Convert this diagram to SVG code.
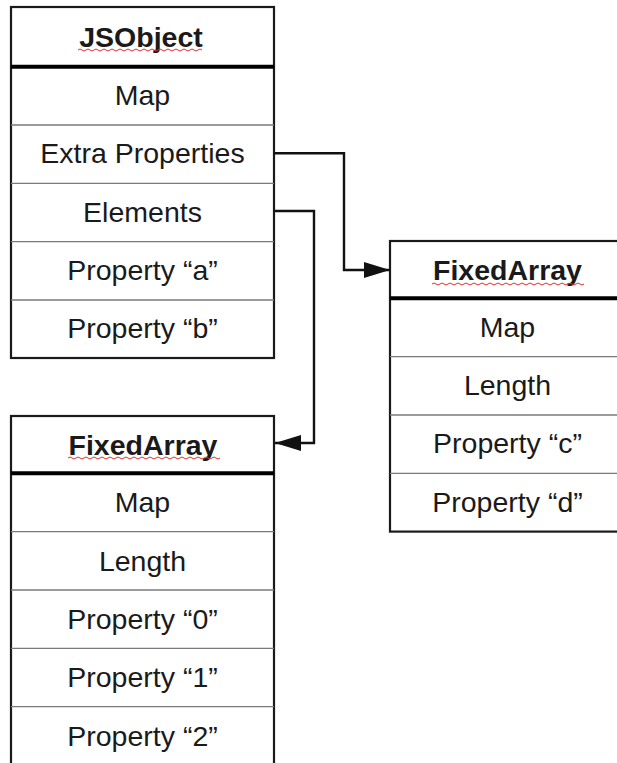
<svg xmlns="http://www.w3.org/2000/svg" width="617" height="763" viewBox="0 0 617 763">
<style>
.box{fill:#fff;stroke:#1a1a1a;stroke-width:2.2}
.row{stroke:#7a7a7a;stroke-width:1.3}
.hdr{stroke:#000;stroke-width:4}
.t{font-family:"Liberation Sans",Arial,sans-serif;font-size:28.5px;fill:#1a1a1a;text-anchor:middle}
.b{font-weight:bold}
.sq{fill:none;stroke:#e03030;stroke-width:1}
.c{fill:none;stroke:#111;stroke-width:2.4}
</style>
<defs>
<marker id="ah" markerWidth="11" markerHeight="7" refX="11" refY="3.5" orient="auto" markerUnits="userSpaceOnUse" viewBox="0 0 11 7">
<path d="M0,0 L11,3.5 L0,7 Z" fill="#111"/>
</marker>
<marker id="arr" viewBox="0 0 26 16" refX="26" refY="8" markerWidth="26" markerHeight="16" markerUnits="userSpaceOnUse" orient="auto">
<path d="M0,0 L26,8 L0,16 Z" fill="#111"/>
</marker>
</defs>
<g id="jsobject">
<rect class="box" x="11" y="7" width="263" height="351"/>
<line class="row" x1="11" y1="125" x2="274" y2="125"/>
<line class="row" x1="11" y1="183.3" x2="274" y2="183.3"/>
<line class="row" x1="11" y1="241.6" x2="274" y2="241.6"/>
<line class="row" x1="11" y1="300" x2="274" y2="300"/>
<line class="hdr" x1="11" y1="66.7" x2="274" y2="66.7"/>
<text class="t b" x="141" y="47">JSObject</text>
<path class="sq" d="M78,50 q2,-2 4,0 t4,0 t4,0 t4,0 t4,0 t4,0 t4,0 t4,0 t4,0 t4,0 t4,0 t4,0 t4,0 t4,0 t4,0 t4,0 t4,0 t4,0 t4,0 t4,0 t4,0 t4,0 t4,0 t4,0 t4,0 t4,0 t4,0 t4,0 t4,0 t4,0 t4,0"/>
<text class="t" x="142.5" y="105">Map</text>
<text class="t" x="142.5" y="163">Extra Properties</text>
<text class="t" x="142.5" y="222">Elements</text>
<text class="t" x="142.5" y="280">Property “a”</text>
<text class="t" x="142.5" y="338">Property “b”</text>
</g>
<g id="fixedarray-right">
<rect class="box" x="390" y="241" width="235" height="290.6"/>
<line class="row" x1="390" y1="356.6" x2="625" y2="356.6"/>
<line class="row" x1="390" y1="415" x2="625" y2="415"/>
<line class="row" x1="390" y1="473.3" x2="625" y2="473.3"/>
<line class="hdr" x1="390" y1="298.3" x2="625" y2="298.3"/>
<text class="t b" x="507.5" y="280">FixedArray</text>
<path class="sq" d="M432,284 q2,-2 4,0 t4,0 t4,0 t4,0 t4,0 t4,0 t4,0 t4,0 t4,0 t4,0 t4,0 t4,0 t4,0 t4,0 t4,0 t4,0 t4,0 t4,0 t4,0 t4,0 t4,0 t4,0 t4,0 t4,0 t4,0 t4,0 t4,0 t4,0 t4,0 t4,0 t4,0 t4,0 t4,0 t4,0 t4,0 t4,0 t4,0 t4,0"/>
<text class="t" x="507.5" y="337">Map</text>
<text class="t" x="507.5" y="395">Length</text>
<text class="t" x="507.5" y="453">Property “c”</text>
<text class="t" x="507.5" y="512">Property “d”</text>
</g>
<g id="fixedarray-bottom">
<rect class="box" x="11" y="416" width="263" height="352"/>
<line class="row" x1="11" y1="531.6" x2="274" y2="531.6"/>
<line class="row" x1="11" y1="590" x2="274" y2="590"/>
<line class="row" x1="11" y1="648.3" x2="274" y2="648.3"/>
<line class="row" x1="11" y1="706.6" x2="274" y2="706.6"/>
<line class="hdr" x1="11" y1="473.3" x2="274" y2="473.3"/>
<text class="t b" x="143" y="455">FixedArray</text>
<path class="sq" d="M68,458 q2,-2 4,0 t4,0 t4,0 t4,0 t4,0 t4,0 t4,0 t4,0 t4,0 t4,0 t4,0 t4,0 t4,0 t4,0 t4,0 t4,0 t4,0 t4,0 t4,0 t4,0 t4,0 t4,0 t4,0 t4,0 t4,0 t4,0 t4,0 t4,0 t4,0 t4,0 t4,0 t4,0 t4,0 t4,0 t4,0 t4,0 t4,0 t4,0"/>
<text class="t" x="142.5" y="512">Map</text>
<text class="t" x="142.5" y="571">Length</text>
<text class="t" x="142.5" y="629">Property “0”</text>
<text class="t" x="142.5" y="687">Property “1”</text>
<text class="t" x="142.5" y="746">Property “2”</text>
</g>
<g id="connectors">
<path class="c" d="M274,153.3 H344 V270 H390" marker-end="url(#arr)"/>
<path class="c" d="M274,211 H314 V443 H275" marker-end="url(#arr)"/>
</g>
</svg>
